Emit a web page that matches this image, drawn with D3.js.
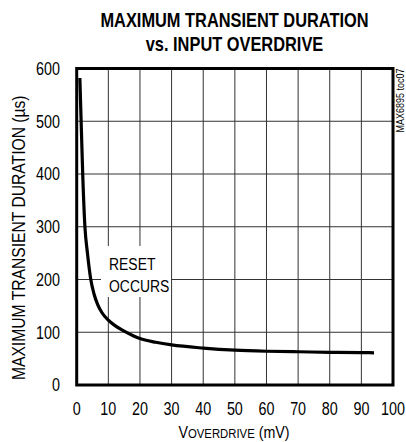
<!DOCTYPE html>
<html>
<head>
<meta charset="utf-8">
<script src="https://cdn.jsdelivr.net/npm/d3@7/dist/d3.min.js"></script>
<style>
  html, body { margin: 0; padding: 0; background: #fff; }
  svg { display: block; }
  text { font-family: "Liberation Sans", Arial, sans-serif; fill: #000; }
</style>
</head>
<body>
<svg id="chart" width="406" height="442"></svg>
<script>
// ---- data ----
const titleLines = ["MAXIMUM TRANSIENT DURATION", "vs. INPUT OVERDRIVE"];
const xTicks = [0, 10, 20, 30, 40, 50, 60, 70, 80, 90, 100];
const yTicks = [0, 100, 200, 300, 400, 500, 600];
const overdrive = [1, 1.4, 1.9, 2.6, 3.4, 4.4, 5.5, 6.6, 8, 10, 12, 15, 18, 20, 25, 30, 40, 50, 60, 70, 80, 90, 94];
const duration  = [582, 500, 400, 300, 250, 202, 172, 153, 137, 123, 113, 102, 93, 88, 81, 76, 70, 66, 64, 63, 62, 61.5, 61];
const annotation = ["RESET", "OCCURS"];
const sideNote = "MAX6895 toc07";

const SX = 0.82; // horizontal condensing to mimic a narrow face

const svg = d3.select("#chart");
const x = d3.scaleLinear().domain([0, 100]).range([76.7, 393]);
const y = d3.scaleLinear().domain([0, 600]).range([385, 68.5]);

// gridlines
const grid = svg.append("g").attr("stroke", "#333").attr("stroke-width", 1);
grid.selectAll("line.v").data(xTicks.slice(1, -1)).join("line")
  .attr("x1", d => x(d)).attr("x2", d => x(d))
  .attr("y1", y(600)).attr("y2", y(0));
grid.selectAll("line.h").data(yTicks.slice(1, -1)).join("line")
  .attr("x1", x(0)).attr("x2", x(100))
  .attr("y1", d => y(d)).attr("y2", d => y(d));

// annotation background box (covers grid)
svg.append("rect")
  .attr("x", 101).attr("y", 246).attr("width", 70).attr("height", 51)
  .attr("fill", "#fff");

// curve
const pts = overdrive.map((v, i) => [v, duration[i]]);
svg.append("path")
  .datum(pts)
  .attr("fill", "none")
  .attr("stroke", "#000")
  .attr("stroke-width", 3.2)
  .attr("stroke-linejoin", "round")
  .attr("d", d3.line().x(d => x(d[0])).y(d => y(d[1])).curve(d3.curveMonotoneX));

// frame
svg.append("rect")
  .attr("x", x(0)).attr("y", y(600))
  .attr("width", x(100) - x(0)).attr("height", y(0) - y(600))
  .attr("fill", "none").attr("stroke", "#000").attr("stroke-width", 3);

// annotation text
svg.selectAll("text.ann").data(annotation).join("text")
  .attr("class", "ann")
  .attr("transform", (d, i) => `translate(109, ${270 + i * 22}) scale(${SX},1)`)
  .attr("font-size", 17)
  .text(d => d);

// title
svg.selectAll("text.title").data(titleLines).join("text")
  .attr("class", "title")
  .attr("transform", (d, i) => `translate(234.5, ${27 + i * 24}) scale(${SX},1)`)
  .attr("text-anchor", "middle")
  .attr("font-size", 20).attr("font-weight", "bold")
  .text(d => d);

// y tick labels
svg.selectAll("text.yt").data(yTicks).join("text")
  .attr("class", "yt")
  .attr("transform", d => `translate(60, ${y(d) + 6.3}) scale(${SX},1)`)
  .attr("text-anchor", "end")
  .attr("font-size", 17.5)
  .text(d => d);

// x tick labels
svg.selectAll("text.xt").data(xTicks).join("text")
  .attr("class", "xt")
  .attr("transform", d => `translate(${x(d)}, 415) scale(${SX},1)`)
  .attr("text-anchor", "middle")
  .attr("font-size", 17.5)
  .text(d => d);

// x axis title
const xt = svg.append("text")
  .attr("transform", `translate(234, 438) scale(0.84,1)`)
  .attr("text-anchor", "middle")
  .attr("font-size", 17);
xt.append("tspan").text("V");
xt.append("tspan").attr("font-size", 13.5).text("OVERDRIVE");
xt.append("tspan").text(" (mV)");

// y axis title
svg.append("text")
  .attr("transform", `translate(25, ${(y(0) + y(600)) / 2 + 11}) rotate(-90) scale(0.87,1)`)
  .attr("text-anchor", "middle")
  .attr("font-size", 18)
  .text("MAXIMUM TRANSIENT DURATION (\u00B5s)");

// side note
svg.append("text")
  .attr("transform", "translate(404, 100.5) rotate(-90) scale(0.82,1)")
  .attr("text-anchor", "middle")
  .attr("font-size", 11)
  .text(sideNote);
</script>
</body>
</html>
